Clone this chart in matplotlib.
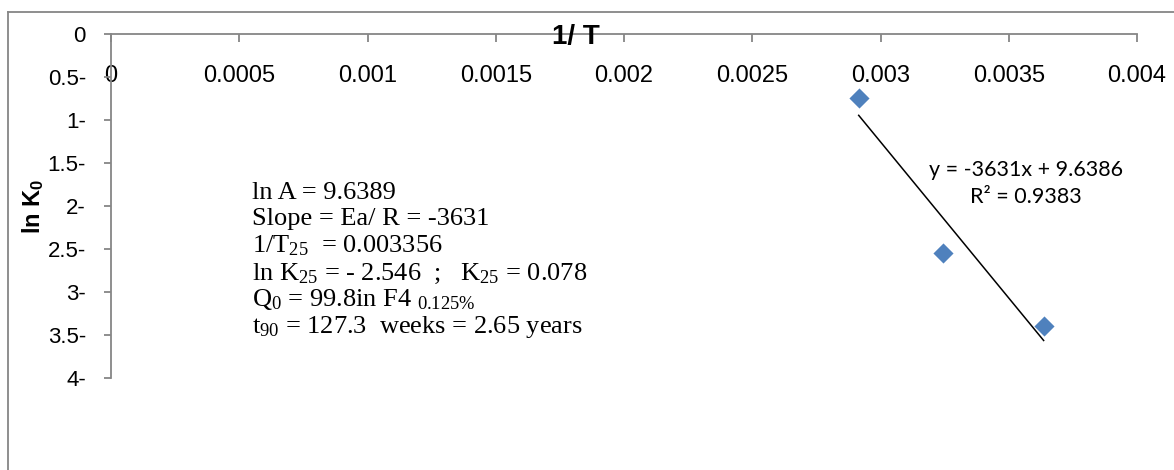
import matplotlib
matplotlib.use("Agg")
import matplotlib.pyplot as plt
from matplotlib.lines import Line2D
import numpy as np

plt.rcParams['mathtext.fontset'] = 'custom'
plt.rcParams['mathtext.rm'] = 'Liberation Serif'
plt.rcParams['mathtext.it'] = 'Liberation Serif:italic'
plt.rcParams['mathtext.sf'] = 'Liberation Sans:bold'

# data
inv_T = [0.002915, 0.003245, 0.003636]
ln_K0 = [-0.748, -2.543, -3.392]
slope = -3631
intercept = 9.6386
r2 = 0.9383
x_ticks = [0, 0.0005, 0.001, 0.0015, 0.002, 0.0025, 0.003, 0.0035, 0.004]
x_tick_labels = ["0", "0.0005", "0.001", "0.0015", "0.002", "0.0025", "0.003", "0.0035", "0.004"]
y_ticks = [0, -0.5, -1, -1.5, -2, -2.5, -3, -3.5, -4]
y_tick_labels = ["0", "0.5-", "1-", "1.5-", "2-", "2.5-", "3-", "3.5-", "4-"]
info_lines = [
    "ln A = 9.6389",
    "Slope = Ea/ R = -3631",
    "1/T$_{25}$  = 0.003356",
    "ln K$_{25}$ = - 2.546  ;   K$_{25}$ = 0.078",
    "Q$_{0}$ = 99.8in F4 $_{0.125\\%}$",
    "t$_{90}$ = 127.3  weeks = 2.65 years",
]

W, H = 1174, 470
fig = plt.figure(figsize=(W / 100, H / 100), dpi=100)
ax = fig.add_axes([111 / W, 1 - 378 / H, (1137 - 111) / W, (378 - 34) / H])

gray = '#868686'
# outer chart border
fig.add_artist(Line2D([8 / W, 8 / W], [0, 1 - 12 / H], color=gray, lw=1.3, transform=fig.transFigure))
fig.add_artist(Line2D([8 / W, 1.0], [1 - 12 / H, 1 - 12 / H], color=gray, lw=1.3, transform=fig.transFigure))

ax.scatter(inv_T, ln_K0, marker='D', s=105, color='#4F81BD', zorder=3, linewidths=0)
xf = np.array([min(inv_T), max(inv_T)])
ax.plot(xf, slope * xf + intercept, color='black', lw=1.1, zorder=2)

ax.set_xlim(0, 0.004)
ax.set_ylim(-4, 0)
for s in ['right', 'bottom']:
    ax.spines[s].set_visible(False)
for s in ['left', 'top']:
    ax.spines[s].set_color(gray)
    ax.spines[s].set_linewidth(1.3)

ax.set_xticks(x_ticks)
ax.set_xticklabels(x_tick_labels)
ax.xaxis.set_ticks_position('top')
ax.tick_params(axis='x', direction='in', length=6, width=1.3, color=gray,
               labeltop=True, labelbottom=False, pad=-38, labelsize=17)
for lbl in ax.get_xticklabels():
    lbl.set_fontfamily('Liberation Sans')

ax.set_yticks(y_ticks)
ax.set_yticklabels(y_tick_labels)
ax.tick_params(axis='y', direction='out', length=5, width=1.3, color=gray,
               pad=13, labelsize=16)
for lbl in ax.get_yticklabels():
    lbl.set_fontfamily('Liberation Sans')

ax.set_ylabel("ln K$_{\\mathsf{0}}$", fontfamily='Liberation Sans', fontweight='bold', fontsize=17)
ax.yaxis.set_label_coords(46 / W, 1 - 206 / H, transform=fig.transFigure)

fig.text(576 / W, 1 - 37 / H, "1/ T", ha='center', va='center',
         fontfamily='Liberation Sans', fontweight='bold', fontsize=20)

baselines = [199, 225.5, 252.5, 280, 306.5, 333]
for line, yb in zip(info_lines, baselines):
    fig.text(252 / W, 1 - yb / H, line, ha='left', va='baseline',
             fontfamily='Liberation Serif', fontsize=19)

fig.text(1026 / W, 1 - 176.5 / H, f"y = {slope}x + {intercept}", ha='center', va='baseline',
         fontfamily='Lato', fontsize=15.5)
fig.text(1026 / W, 1 - 203.5 / H, f"R² = {r2}", ha='center', va='baseline',
         fontfamily='Lato', fontsize=15.5)

fig.savefig("out.png", dpi=100)
